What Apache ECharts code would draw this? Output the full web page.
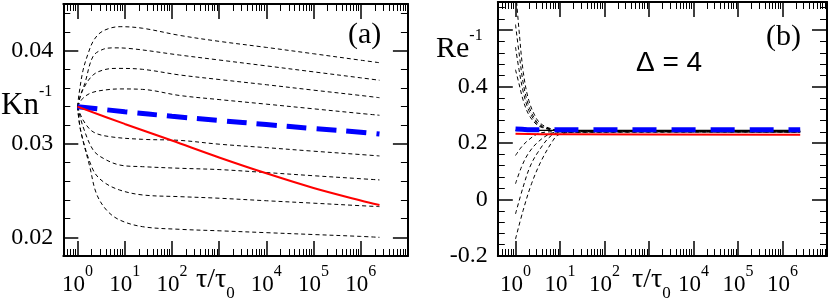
<!DOCTYPE html>
<html><head><meta charset="utf-8">
<script src="https://cdn.jsdelivr.net/npm/echarts@6/dist/echarts.min.js"></script>
<style>html,body{margin:0;padding:0;background:#fff}#c{width:831px;height:308px}</style>
</head><body><div id="c"></div>
<script>
// ---------- data ----------
const tauMajor = [1, 10, 100, 1000, 10000, 100000, 1000000];
const tauLabeled = [1, 10, 100, 10000, 100000, 1000000];
const knMajor = [0.02, 0.03, 0.04];
const knMinor = [0.018, 0.022, 0.024, 0.026, 0.028, 0.032, 0.034, 0.036, 0.038, 0.042, 0.044];
const reMajor = [-0.2, 0, 0.2, 0.4, 0.6];
const reLabeled = [-0.2, 0, 0.2, 0.4];
const reMinor = [-0.16, -0.12, -0.08, -0.04, 0.04, 0.08, 0.12, 0.16, 0.24, 0.28, 0.32, 0.36, 0.44, 0.48, 0.52, 0.56, 0.64, 0.68];

// panel (a): Kn^-1 vs tau/tau0
const knBlack1 = [[1,0.034],[1.08,0.0354],[1.31,0.0379],[1.68,0.0397],[2.14,0.041],[3,0.0419],[4.8,0.0424],[8,0.04257],[24,0.0424],[145,0.04164],[1e3,0.0410],[1e4,0.04035],[1e5,0.03967],[1e6,0.03898],[2.5e6,0.03871]];
const knBlack2 = [[1,0.034],[1.15,0.0352],[1.43,0.0365],[2.14,0.0394],[3.5,0.04015],[6,0.0403],[11,0.04026],[145,0.03953],[1e3,0.0390],[1e4,0.03837],[1e5,0.03773],[1e6,0.03709],[2.5e6,0.03683]];
const knBlack3 = [[1,0.034],[1.3,0.0358],[2.14,0.0374],[4,0.038],[7,0.0381],[24,0.038],[145,0.0374],[1e3,0.03691],[1e4,0.03635],[1e5,0.03577],[1e6,0.0352],[2.5e6,0.03496]];
const knBlack4 = [[1,0.034],[1.3,0.0349],[2,0.0355],[4,0.0358],[8,0.0359],[24,0.03585],[145,0.0352],[1e3,0.03476],[1e4,0.03427],[1e5,0.03377],[1e6,0.03327],[2.5e6,0.03308]];
const knBlack5 = [[1,0.034],[1.31,0.03257],[2.14,0.0313],[4.8,0.03079],[24,0.0305],[145,0.03039],[1e3,0.02998],[1e4,0.02961],[1e5,0.02923],[1e6,0.02887],[2.5e6,0.02872]];
const knBlack6 = [[1,0.034],[1.31,0.03186],[2.14,0.02936],[3.5,0.02847],[7.8,0.02775],[24,0.02757],[145,0.0274],[1e3,0.02726],[1e4,0.02694],[1e5,0.0266],[1e6,0.02628],[2.5e6,0.02615]];
const knBlack7 = [[1,0.034],[1.2,0.03115],[2.14,0.02722],[3.5,0.02596],[7.8,0.02507],[24,0.02454],[145,0.02436],[1e3,0.02419],[1e4,0.02392],[1e5,0.02366],[1e6,0.02339],[2.5e6,0.02329]];
const knBlack8 = [[1,0.034],[1.16,0.0315],[1.82,0.02757],[2.5,0.02472],[4.1,0.02293],[7.8,0.02186],[24,0.02114],[145,0.02086],[1e3,0.0207],[1e4,0.0205],[1e5,0.0203],[1e6,0.0201],[2.5e6,0.0200]];
const knBlue = [[1,0.034],[10,0.03346],[100,0.03297],[1e3,0.03252],[1e4,0.03209],[1e5,0.03166],[1e6,0.03127],[2.5e6,0.03107]];
const knRed = [[1,0.034],[10,0.03215],[100,0.03037],[1e3,0.02856],[1e4,0.02686],[1e5,0.02529],[1e6,0.02395],[2.5e6,0.02347]];

// panel (b): Re^-1 vs tau/tau0
const reUp1 = [[1,0.75],[1.2,0.6],[1.5,0.45],[2,0.35],[3,0.285],[4,0.265],[6,0.252],[10,0.245],[2.5e6,0.24]];
const reUp2 = [[1,0.62],[1.2,0.52],[1.5,0.41],[2,0.33],[3,0.275],[4,0.26],[6,0.25],[10,0.244],[2.5e6,0.24]];
const reUp3 = [[1,0.54],[1.2,0.46],[1.5,0.38],[2,0.315],[3,0.27],[4,0.257],[6,0.249],[10,0.243],[2.5e6,0.24]];
const reUp4 = [[1,0.46],[1.2,0.41],[1.5,0.35],[2,0.3],[3,0.265],[4,0.255],[6,0.248],[10,0.243],[2.5e6,0.24]];
const reLow1 = [[1,0.156],[1.36,0.186],[1.92,0.21],[3.2,0.233],[6.4,0.24],[2.5e6,0.24]];
const reLow2 = [[1,0.056],[1.36,0.115],[1.92,0.162],[3.2,0.204],[6.4,0.235],[12,0.24],[2.5e6,0.24]];
const reLow3 = [[1,-0.051],[1.48,0.044],[2.1,0.115],[3.2,0.168],[6.4,0.227],[12,0.238],[2.5e6,0.24]];
const reLow4 = [[1,-0.14],[1.48,-0.039],[2.29,0.056],[3.84,0.139],[7,0.21],[9.1,0.229],[20,0.239],[2.5e6,0.24]];
const reBlackSolid = [[1,0.245],[2.5e6,0.245]];
const reBlue = [[1,0.25],[3,0.247],[2.5e6,0.247]];
const reRed = [[1,0.233],[10,0.231],[2.5e6,0.23]];

// ---------- helpers ----------
function logMinor(lo, hi) {
  const out = [];
  for (let d = -1; d <= 7; d++) for (let k = 2; k <= 9; k++) {
    const v = k * Math.pow(10, d);
    if (v >= lo && v <= hi) out.push(+v.toPrecision(3));
  }
  return out;
}
const SERIF = 'Liberation Serif';
const AX = { onZero: false, lineStyle: { color: '#000', width: 2 } };

function xAxes(grid, min, max) {
  const minor = logMinor(min, max);
  const base = { type: 'log', logBase: 10, gridIndex: grid, min: min, max: max, splitLine: { show: false } };
  return [
    Object.assign({}, base, {
      position: 'bottom', axisLine: Object.assign({ show: true }, AX),
      axisTick: { show: true, inside: true, length: 15, customValues: tauMajor, lineStyle: { color: '#000', width: 1.5 } },
      axisLabel: {
        show: true, customValues: tauLabeled, margin: 8,
        formatter: v => '{b|10}{p|' + Math.round(Math.log10(v)) + '}',
        rich: {
          b: { fontFamily: SERIF, fontSize: 23, color: '#000', padding: [9, 0, 0, 0] },
          p: { fontFamily: SERIF, fontSize: 16, color: '#000', verticalAlign: 'top' }
        }
      }
    }),
    Object.assign({}, base, {
      position: 'bottom', axisLine: { show: false, onZero: false },
      axisTick: { show: true, inside: true, length: 7, customValues: minor, lineStyle: { color: '#000', width: 1 } },
      axisLabel: { show: false }
    }),
    Object.assign({}, base, {
      position: 'top', axisLine: Object.assign({ show: true }, AX),
      axisTick: { show: true, inside: true, length: 15, customValues: tauMajor, lineStyle: { color: '#000', width: 1.5 } },
      axisLabel: { show: false }
    }),
    Object.assign({}, base, {
      position: 'top', axisLine: { show: false, onZero: false },
      axisTick: { show: true, inside: true, length: 7, customValues: minor, lineStyle: { color: '#000', width: 1 } },
      axisLabel: { show: false }
    })
  ];
}
function yAxes(grid, min, max, major, labeled, minor, fmt) {
  const base = { type: 'value', gridIndex: grid, min: min, max: max, splitLine: { show: false } };
  return [
    Object.assign({}, base, {
      position: 'left', axisLine: Object.assign({ show: true }, AX),
      axisTick: { show: true, inside: true, length: 15, customValues: major, lineStyle: { color: '#000', width: 1.5 } },
      axisLabel: { show: true, customValues: labeled, margin: 10, formatter: fmt, fontFamily: SERIF, fontSize: 24, color: '#000' }
    }),
    Object.assign({}, base, {
      position: 'left', axisLine: { show: false, onZero: false },
      axisTick: { show: true, inside: true, length: 7, customValues: minor, lineStyle: { color: '#000', width: 1 } },
      axisLabel: { show: false }
    }),
    Object.assign({}, base, {
      position: 'right', axisLine: Object.assign({ show: true }, AX),
      axisTick: { show: true, inside: true, length: 15, customValues: major, lineStyle: { color: '#000', width: 1.5 } },
      axisLabel: { show: false }
    }),
    Object.assign({}, base, {
      position: 'right', axisLine: { show: false, onZero: false },
      axisTick: { show: true, inside: true, length: 7, customValues: minor, lineStyle: { color: '#000', width: 1 } },
      axisLabel: { show: false }
    })
  ];
}
function line(data, xi, yi, color, width, type, z) {
  return { type: 'line', data: data, xAxisIndex: xi, yAxisIndex: yi, symbol: 'none', smooth: 0.35,
    lineStyle: { color: color, width: width, type: type }, z: z, silent: true };
}
const dashBlack = [4, 3];

const seriesA = [knBlack1, knBlack2, knBlack3, knBlack4, knBlack5, knBlack6, knBlack7, knBlack8]
  .map(d => line(d, 0, 0, '#000', 1, dashBlack, 2));
seriesA.push(line(knBlue, 0, 0, '#0000ff', 5, [20, 10], 3));
seriesA.push(line(knRed, 0, 0, '#ff0000', 2, 'solid', 4));

const seriesB = [reUp1, reUp2, reUp3, reUp4, reLow1, reLow2, reLow3, reLow4]
  .map(d => line(d, 4, 4, '#000', 1, dashBlack, 2));
seriesB.push(line(reBlackSolid, 4, 4, '#000', 1.2, 'solid', 3));
seriesB.push(line(reRed, 4, 4, '#ff0000', 2, 'solid', 4));
seriesB.push(line(reBlue, 4, 4, '#0000ff', 5, [24, 15], 5));

const chart = echarts.init(document.getElementById('c'), null, { renderer: 'canvas' });
chart.setOption({
  animation: false,
  backgroundColor: '#fff',
  grid: [
    { left: 63.3, top: 4, width: 344.6, height: 252, containLabel: false, outerBoundsMode: 'none' },
    { left: 497.8, top: 2, width: 329.2, height: 254, containLabel: false, outerBoundsMode: 'none' }
  ],
  xAxis: xAxes(0, 0.5, 1e7).concat(xAxes(1, 0.4, 1e7)),
  yAxis: yAxes(0, 0.018, 0.045, knMajor, knMajor, knMinor, v => v.toFixed(2))
    .concat(yAxes(1, -0.2, 0.7, reMajor, reLabeled, reMinor, v => String(Math.round(v * 10) / 10))),
  series: seriesA.concat(seriesB),
  graphic: [
    { type: 'text', left: 1, top: 84, style: { rich: { m: { fontFamily: SERIF, fontSize: 31, fill: '#000', padding: [6, 0, 0, 0] }, s: { fontFamily: SERIF, fontSize: 16, fill: '#000', verticalAlign: 'top' } }, text: '{m|Kn}{s|-1}' } },
    { type: 'text', left: 436, top: 28, style: { rich: { m: { fontFamily: SERIF, fontSize: 30, fill: '#000', padding: [6, 0, 0, 0] }, s: { fontFamily: SERIF, fontSize: 16, fill: '#000', verticalAlign: 'top' } }, text: '{m|Re}{s|-1}' } },
    { type: 'text', left: 348, top: 20, style: { text: '(a)', fontFamily: SERIF, fontSize: 30, fill: '#000' } },
    { type: 'text', left: 766, top: 22, style: { text: '(b)', fontFamily: SERIF, fontSize: 30, fill: '#000' } },
    { type: 'text', left: 636, top: 49, style: { text: 'Δ = 4', fontFamily: 'Liberation Sans', fontSize: 28, fill: '#000' } },
    { type: 'text', left: 196, top: 266, style: { rich: { t: { fontFamily: SERIF, fontSize: 28, fill: '#000', padding: [0, 0, 8, 0] }, s: { fontFamily: SERIF, fontSize: 17, fill: '#000', verticalAlign: 'bottom' } }, text: '{t|τ/τ}{s|0}' } },
    { type: 'text', left: 632, top: 266, style: { rich: { t: { fontFamily: SERIF, fontSize: 28, fill: '#000', padding: [0, 0, 8, 0] }, s: { fontFamily: SERIF, fontSize: 17, fill: '#000', verticalAlign: 'bottom' } }, text: '{t|τ/τ}{s|0}' } }
  ]
});
</script></body></html>
